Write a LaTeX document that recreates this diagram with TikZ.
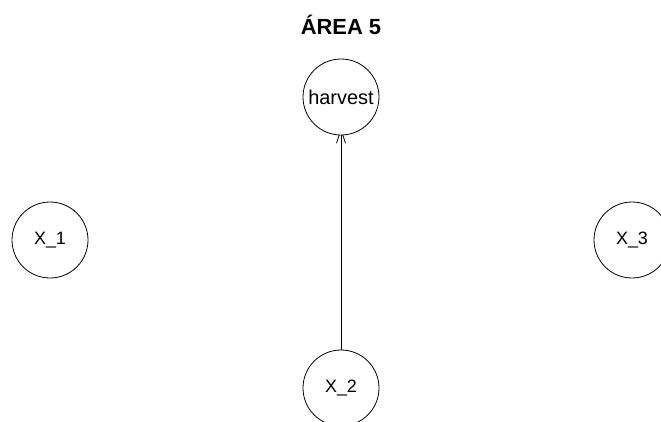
\documentclass[tikz,border=0pt]{standalone}
\usepackage{fontspec}
\setmainfont{Liberation Sans}
\usetikzlibrary{arrows.meta, positioning, shapes}
\tikzstyle{var} = [draw, circle, line width=0.8bp, fill=white, minimum size=76bp, inner sep=0pt, font=\fontsize{18}{20}\selectfont]
\tikzstyle{arrow} = [line width=0.8bp, -{Straight Barb[length=14bp, width=9bp]}]

\begin{document}
\begin{tikzpicture}[x=1bp, y=-1bp]
  \useasboundingbox (0,0) rectangle (661,421);

  % Title
  \node (titulo) at (341,25) {\fontsize{22}{24}\selectfont\bfseries ÁREA 5};

  % Arrows (drawn first so the circles cover the tip)
  \coordinate (tip) at (341,128);
  \coordinate (foot) at (341,350);
  \draw[arrow] (foot) -- (tip);

  % Nodes
  \node (harvest) [var, font=\fontsize{20}{22}\selectfont] at (341,97) {harvest};
  \node (x1) [var] at (50,240) {X\_1};
  \node (x3) [var] at (632,240) {X\_3};
  \node (x2) [var] at (341,388) {X\_2};
\end{tikzpicture}
\end{document}
